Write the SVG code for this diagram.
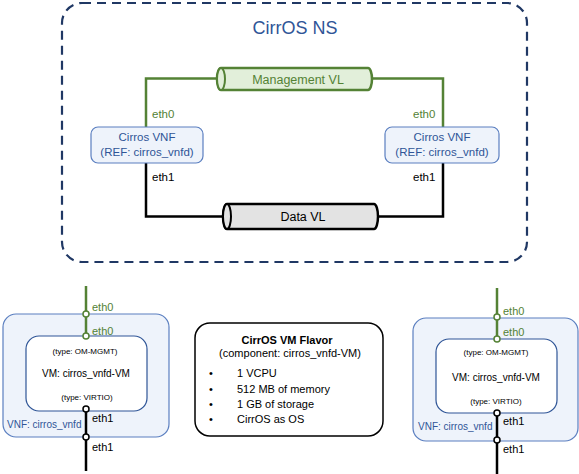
<svg xmlns="http://www.w3.org/2000/svg" width="579" height="474" viewBox="0 0 579 474">
<style>
text{font-family:"Liberation Sans",Arial,sans-serif;}
.blue{fill:#2f5597;}
.green{fill:#548235;}
.blk{fill:#000;}
.gl{stroke:#548235;stroke-width:2.5;fill:none;}
.bl{stroke:#000;stroke-width:2.5;fill:none;}
.vnf{fill:#eef3fb;stroke:#5b7fc0;stroke-width:1.2;}
.vm{fill:#fff;stroke:#2f5597;stroke-width:1.2;}
.gc{fill:#fff;stroke:#548235;stroke-width:1.5;}
.bc{fill:#fff;stroke:#000;stroke-width:1.5;}
</style>
<rect width="579" height="474" fill="#fff"/>
<g id="ns">
<rect x="62" y="3" width="465" height="259" rx="20" fill="none" stroke="#203864" stroke-width="2.2" stroke-dasharray="9,6"/>
<text x="295" y="34" font-size="18" text-anchor="middle" class="blue">CirrOS NS</text>
</g>
<g id="connectors">
<polyline class="gl" points="146,127 146,78.5 217,78.5"/>
<polyline class="gl" points="372,78.5 443,78.5 443,127"/>
<polyline class="bl" points="146,163 146,216.5 223,216.5"/>
<polyline class="bl" points="378,216.5 443,216.5 443,163"/>
<text x="152" y="118" font-size="11.5" class="green">eth0</text>
<text x="413" y="118" font-size="11.5" class="green">eth0</text>
<text x="152" y="181" font-size="11.5" class="blk">eth1</text>
<text x="413" y="181" font-size="11.5" class="blk">eth1</text>
</g>
<g id="mgmt-vl">
<path d="M221,68 H368 A4,11 0 0 1 368,90 H221 A4,11 0 0 1 221,68 Z" fill="#e2efda" stroke="#548235" stroke-width="2.5"/>
<ellipse cx="221" cy="79" rx="4" ry="11" fill="#e2efda" stroke="#548235" stroke-width="2"/>
<text x="298" y="84" font-size="12.5" text-anchor="middle" class="green">Management VL</text>
</g>
<g id="data-vl">
<path d="M227,204 H374 A4,12.5 0 0 1 374,229 H227 A4,12.5 0 0 1 227,204 Z" fill="#e3e3e3" stroke="#000" stroke-width="2.5"/>
<ellipse cx="227" cy="216.5" rx="4" ry="12.5" fill="#e3e3e3" stroke="#000" stroke-width="2"/>
<text x="303" y="221" font-size="12.5" text-anchor="middle" class="blk">Data VL</text>
</g>
<g id="vnf-left">
<rect x="91" y="127" width="112" height="36" rx="7" class="vnf"/>
<text x="147" y="141" font-size="11.5" text-anchor="middle" class="blue">Cirros VNF</text>
<text x="147" y="156" font-size="11.5" text-anchor="middle" class="blue">(REF: cirros_vnfd)</text>
</g>
<g id="vnf-right">
<rect x="385" y="127" width="114" height="36" rx="7" class="vnf"/>
<text x="442" y="141" font-size="11.5" text-anchor="middle" class="blue">Cirros VNF</text>
<text x="442" y="156" font-size="11.5" text-anchor="middle" class="blue">(REF: cirros_vnfd)</text>
</g>
<g id="vnfd-left">
<rect x="3" y="314" width="166" height="123" rx="13" class="vnf"/>
<rect x="26" y="336" width="121" height="75" rx="13" class="vm"/>
<line x1="86" y1="286" x2="86" y2="336" class="gl"/>
<line x1="86" y1="411" x2="86" y2="471" class="bl"/>
<circle cx="86" cy="314" r="3" class="gc"/>
<circle cx="86" cy="336" r="3" class="gc"/>
<circle cx="86" cy="409" r="3" class="bc"/>
<circle cx="86" cy="437" r="3" class="bc"/>
<text x="92" y="311" font-size="11" class="green">eth0</text>
<text x="92" y="335" font-size="11" class="green">eth0</text>
<text x="92" y="422" font-size="11" class="blk">eth1</text>
<text x="92" y="451" font-size="11" class="blk">eth1</text>
<text x="85" y="354" font-size="8" text-anchor="middle" class="blk">(type: OM-MGMT)</text>
<text x="86" y="377" font-size="10" text-anchor="middle" class="blk">VM: cirros_vnfd-VM</text>
<text x="87" y="400" font-size="8" text-anchor="middle" class="blk">(type: VIRTIO)</text>
<text x="7" y="428" font-size="10" class="blue">VNF: cirros_vnfd</text>
</g>
<g id="flavor">
<rect x="195" y="323" width="188" height="113" rx="15" fill="#fff" stroke="#000" stroke-width="1.5"/>
<text x="287" y="344" font-size="11" font-weight="bold" text-anchor="middle" class="blk">CirrOS VM Flavor</text>
<text x="290" y="357" font-size="11" text-anchor="middle" class="blk">(component: cirros_vnfd-VM)</text>
<text x="209" y="377" font-size="11" class="blk">•</text>
<text x="237" y="377" font-size="11" class="blk">1 VCPU</text>
<text x="209" y="393" font-size="11" class="blk">•</text>
<text x="237" y="393" font-size="11" class="blk">512 MB of memory</text>
<text x="209" y="408" font-size="11" class="blk">•</text>
<text x="237" y="408" font-size="11" class="blk">1 GB of storage</text>
<text x="209" y="423" font-size="11" class="blk">•</text>
<text x="237" y="423" font-size="11" class="blk">CirrOS as OS</text>
</g>
<g id="vnfd-right">
<rect x="413" y="318" width="165" height="123" rx="13" class="vnf"/>
<rect x="436" y="339" width="121" height="74" rx="13" class="vm"/>
<line x1="497" y1="288" x2="497" y2="339" class="gl"/>
<line x1="497" y1="413" x2="497" y2="474" class="bl"/>
<circle cx="497" cy="317" r="3" class="gc"/>
<circle cx="497" cy="339" r="3" class="gc"/>
<circle cx="497" cy="413" r="3" class="bc"/>
<circle cx="497" cy="440" r="3" class="bc"/>
<text x="503" y="315" font-size="11" class="green">eth0</text>
<text x="503" y="336" font-size="11" class="green">eth0</text>
<text x="503" y="425" font-size="11" class="blk">eth1</text>
<text x="503" y="453" font-size="11" class="blk">eth1</text>
<text x="496" y="355" font-size="8" text-anchor="middle" class="blk">(type: OM-MGMT)</text>
<text x="496" y="381" font-size="10" text-anchor="middle" class="blk">VM: cirros_vnfd-VM</text>
<text x="496" y="404" font-size="8" text-anchor="middle" class="blk">(type: VIRTIO)</text>
<text x="418" y="430" font-size="10" class="blue">VNF: cirros_vnfd</text>
</g>
</svg>
